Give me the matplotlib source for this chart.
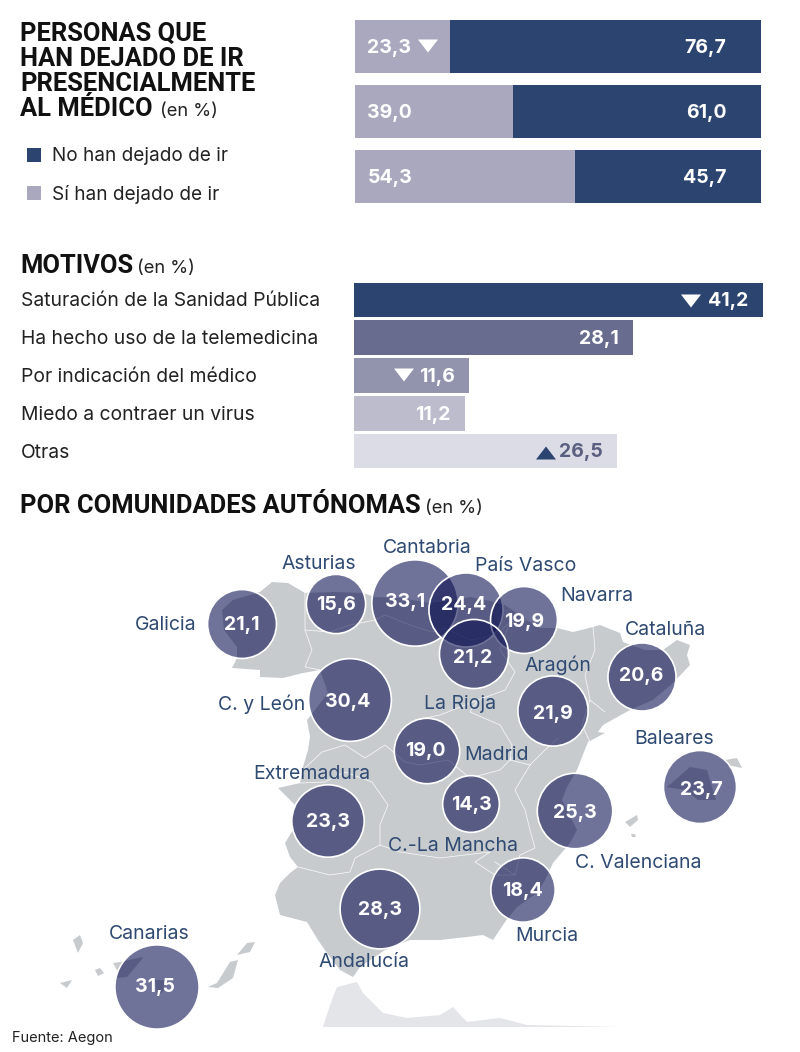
import numpy as np
import matplotlib
matplotlib.use("Agg")
import matplotlib.pyplot as plt

# ==============================
# DATA
# ==============================
stack_si = [23.3, 39.0, 54.3]
stack_no = [76.7, 61.0, 45.7]

motivos = ["Saturación de la Sanidad Pública", "Ha hecho uso de la telemedicina",
           "Por indicación del médico", "Miedo a contraer un virus", "Otras"]
motivos_val = [41.2, 28.1, 11.6, 11.2, 26.5]

regiones = ["Galicia", "Asturias", "Cantabria", "País Vasco", "Navarra", "La Rioja",
            "C. y León", "Aragón", "Cataluña", "Madrid", "Baleares", "C.-La Mancha",
            "C. Valenciana", "Extremadura", "Murcia", "Andalucía", "Canarias"]
regiones_val = [21.1, 15.6, 33.1, 24.4, 19.9, 21.2, 30.4, 21.9, 20.6, 19.0, 23.7,
                14.3, 25.3, 23.3, 18.4, 28.3, 31.5]

# ==============================
# LAYOUT (pixels of the 800x1052 picture)
# ==============================
W, H = 800, 1052
NAVY = "#2b4570"
LILAC = "#a9a8bf"
LABEL = "#2f4a72"
TEXT = "#222222"
GREY = "#c8cbce"
FONT = "Inter"

bubble_x = [242, 336, 415, 466, 524, 474, 350, 553, 642, 427, 700, 471, 575, 328, 523, 380, 157]
bubble_y = [624, 604, 603, 610, 620, 654, 700, 711, 677, 751, 787, 804, 811, 821, 890, 909, 987]
value_x = [242, 336, 405, 464, 524, 473, 348, 553, 641, 425, 701, 471, 575, 328, 522, 380, 155]
value_y = [625, 605, 602, 605, 622, 658, 702, 714, 676, 751, 790, 805, 813, 822, 891, 910, 987]
label_x = [166, 319, 427, 526, 597, 460, 262, 558, 665, 497, 674, 453, 638, 312, 547, 364, 149]
label_y = [625, 564, 548, 566, 596, 704, 704, 665, 630, 755, 739, 846, 863, 774, 936, 962, 934]

# map outline, pixels
espana = [(260, 592), (272, 582), (288, 583), (305, 593), (335, 592), (363, 593), (375, 597),
          (400, 598), (430, 603), (455, 600), (470, 597), (490, 601), (505, 605), (527, 620),
          (540, 628), (557, 628), (573, 632), (593, 627), (600, 625), (620, 633), (623, 642),
          (645, 650), (663, 650), (677, 640), (690, 645), (687, 655), (690, 665), (673, 683),
          (653, 700), (630, 710), (603, 725), (598, 732), (605, 733), (588, 742), (582, 757),
          (577, 770), (567, 787), (562, 800), (577, 830), (570, 843), (553, 863), (545, 880),
          (537, 893), (517, 907), (505, 922), (493, 940), (483, 935), (467, 937), (440, 940),
          (410, 940), (385, 950), (360, 967), (353, 977), (340, 970), (327, 953), (318, 940),
          (307, 922), (280, 915), (275, 895), (280, 883), (290, 873), (298, 867), (290, 857),
          (285, 843), (293, 830), (292, 820), (296, 806), (285, 795), (278, 788), (300, 783),
          (303, 767), (308, 750), (310, 737), (307, 720), (315, 710), (328, 693), (320, 670),
          (303, 673), (283, 678), (260, 677), (260, 670), (232, 668), (237, 658), (237, 647),
          (224, 630), (222, 610), (233, 600)]
fronteras = [
    [(305, 593), (305, 630), (312, 650), (305, 667), (320, 670)],
    [(305, 630), (330, 632), (350, 625), (375, 620), (385, 615), (410, 625), (432, 632), (445, 628)],
    [(445, 628), (470, 640), (495, 636), (510, 622), (527, 620)],
    [(510, 622), (500, 650), (515, 672), (505, 690), (478, 700)],
    [(593, 627), (595, 650), (585, 675), (590, 700), (605, 712)],
    [(590, 700), (582, 725), (590, 742)],
    [(478, 700), (470, 712), (500, 725), (512, 745), (510, 760), (530, 765), (545, 750), (558, 738)],
    [(530, 765), (515, 790), (525, 810), (530, 830), (535, 848), (520, 855), (515, 875), (495, 862)],
    [(405, 762), (385, 745), (365, 758), (345, 745), (322, 752), (305, 768)],
    [(405, 762), (420, 765), (448, 760), (470, 778), (500, 770), (512, 758)],
    [(372, 782), (388, 805), (380, 825), (380, 845), (355, 858), (350, 872), (330, 875), (298, 867)],
    [(372, 782), (345, 772), (325, 782), (300, 783)],
    [(380, 845), (400, 852), (440, 858), (490, 852), (475, 862), (495, 875), (515, 875)],
    [(415, 720), (440, 715), (478, 700)],
]
peninsula_sur = [(323, 1027), (330, 1005), (337, 987), (357, 982), (363, 993), (383, 1013), (407, 1018), (440, 1015),
                 (453, 1007), (467, 1022), (500, 1018), (527, 1025), (620, 1027)]
islas = [
    [(667, 787), (690, 767), (707, 770), (716, 800), (698, 800), (685, 790)],
    [(725, 760), (737, 758), (742, 768), (727, 765)],
    [(625, 822), (637, 815), (638, 820), (630, 827)],
    [(631, 834), (635, 834), (636, 837), (632, 837)],
    [(73, 940), (80, 935), (83, 943), (78, 953)],
    [(95, 970), (100, 968), (104, 973), (98, 976)],
    [(60, 983), (72, 980), (67, 988)],
    [(113, 963), (120, 962), (142, 957), (143, 958), (127, 977), (117, 978), (118, 972)],
    [(155, 980), (165, 980), (163, 992), (157, 995)],
    [(208, 987), (217, 983), (230, 962), (238, 960), (233, 978), (218, 988)],
    [(237, 955), (247, 943), (255, 942), (250, 952)],
]

def px_axes(fig, x0, y0, x1, y1):
    # axes placed with pixel corners, y counted from the top
    return fig.add_axes([x0 / W, 1 - y1 / H, (x1 - x0) / W, (y1 - y0) / H])

fig = plt.figure(figsize=(W / 100, H / 100), dpi=100, facecolor="white")

# ==============================
# 1. STACKED BARS
# ==============================
ax1 = px_axes(fig, 355, 14, 761, 209)
pos1 = np.arange(len(stack_si))
ax1.barh(pos1, stack_si, height=0.82, color=LILAC)
ax1.barh(pos1, stack_no, left=stack_si, height=0.82, color=NAVY)
for i in pos1:
    ax1.annotate(f"{stack_si[i]:.1f}".replace(".", ","), (0, i), xytext=(9, -1),
                 textcoords="offset points", va="center", ha="left", color="white",
                 fontsize=14, fontweight="bold", family=FONT)
    ax1.annotate(f"{stack_no[i]:.1f}".replace(".", ","), (100, i), xytext=(-25, -1),
                 textcoords="offset points", va="center", ha="right", color="white",
                 fontsize=14, fontweight="bold", family=FONT)
ax1.set_xlim(0, 100)
ax1.set_ylim(2.5, -0.5)
ax1.axis("off")

# ==============================
# 2. MOTIVOS
# ==============================
ax2 = px_axes(fig, 354.3, 281.1, 762.7, 469.9)
pos2 = np.arange(len(motivos))
motivos_col = [NAVY, "#686c8f", "#9293ad", "#bcbccd", "#dcdce6"]
motivos_txt = ["white", "white", "white", "white", "#5a5f80"]
ax2.barh(pos2, motivos_val, height=0.915, color=motivos_col)
for i in pos2:
    ax2.annotate(f"{motivos_val[i]:.1f}".replace(".", ","), (motivos_val[i], i), xytext=(-10.5, -1),
                 textcoords="offset points", va="center", ha="right", color=motivos_txt[i],
                 fontsize=14, fontweight="bold", family=FONT)
ax2.set_xlim(0, 41.2)
ax2.set_ylim(4.5, -0.5)
ax2.axis("off")

# ==============================
# 3. MAP AND BUBBLES
# ==============================
ax = fig.add_axes([0, 0, 1, 1])
ax.set_xlim(0, W)
ax.set_ylim(H, 0)
ax.axis("off")
ax.patch.set_alpha(0)

ax.fill(*zip(*peninsula_sur), color="#e4e5e8", lw=0, zorder=1)
ax.fill(*zip(*espana), color=GREY, lw=0, zorder=1)
for isla in islas:
    ax.fill(*zip(*isla), color=GREY, lw=0, zorder=1)
for linea in fronteras:
    ax.plot(*zip(*linea), color="white", lw=0.55, alpha=0.85, zorder=2)

# area proportional to the value, k = 7.5 px per sqrt(unit)
radios = 7.5 * np.sqrt(regiones_val)
sizes = (2 * radios * 72 / 100) ** 2
ax.scatter(bubble_x, bubble_y, s=sizes, facecolor=(0.03, 0.05, 0.31, 0.58),
           edgecolor="white", linewidth=1.2, zorder=3)
for i, nombre in enumerate(regiones):
    ax.text(value_x[i], value_y[i], f"{regiones_val[i]:.1f}".replace(".", ","), ha="center", va="center",
            color="white", fontsize=14, fontweight="bold", family=FONT, zorder=5)
    ax.text(label_x[i], label_y[i], nombre, ha="center", va="center", color=LABEL,
            fontsize=14, family=FONT, zorder=5)

# ==============================
# 4. TEXTS, LEGEND, TRIANGLES
# ==============================
def titulo(x, y, s):
    ax.text(x, y, s, ha="left", va="baseline", color="#111111", fontsize=18.4,
            fontweight="bold", family="Roboto")

def nota(x, y):
    ax.text(x, y, "(en %)", ha="left", va="baseline", color=TEXT, fontsize=13.2, family=FONT)

def triangulo(cx, cy, arriba, color):
    s = -1 if arriba else 1
    ax.fill([cx - 10, cx + 10, cx], [cy - s * 6.5, cy - s * 6.5, cy + s * 6.5], color=color, lw=0, zorder=5)

for y, linea in zip([40.5, 65.5, 91, 116.5], ["PERSONAS QUE", "HAN DEJADO DE IR", "PRESENCIALMENTE", "AL MÉDICO"]):
    titulo(20, y, linea)
nota(160, 116.5)
titulo(20, 273, "MOTIVOS")
nota(137, 273)
titulo(20, 513, "POR COMUNIDADES AUTÓNOMAS")
nota(425, 513)

ax.fill([27, 41, 41, 27], [148, 148, 162, 162], color=NAVY, lw=0)
ax.fill([27, 41, 41, 27], [186, 186, 200, 200], color=LILAC, lw=0)
ax.text(52, 156, "No han dejado de ir", ha="left", va="center", color=TEXT, fontsize=13.7, family=FONT)
ax.text(52, 194, "Sí han dejado de ir", ha="left", va="center", color=TEXT, fontsize=13.7, family=FONT)

for i, nombre in enumerate(motivos):
    ax.text(21, 301.5 + i * 37.8, nombre, ha="left", va="center", color=TEXT, fontsize=13.9, family=FONT)

triangulo(428, 46, False, "white")
triangulo(691, 301, False, "white")
triangulo(404, 375, False, "white")
triangulo(546, 453, True, NAVY)

ax.text(12, 1038, "Fuente: Aegon", ha="left", va="center", color=TEXT, fontsize=10.5, family=FONT)

fig.savefig("out.png", dpi=100)
